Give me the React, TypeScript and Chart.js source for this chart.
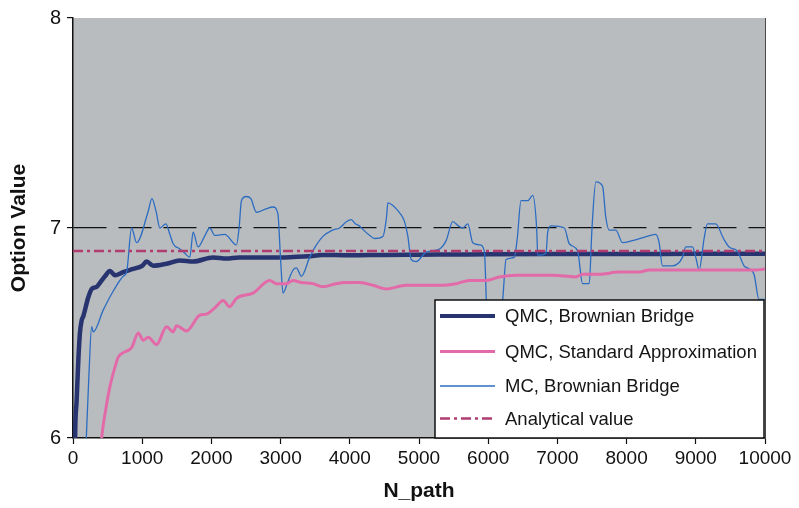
import React, { useEffect, useRef } from "react";
import { Chart, registerables } from "chart.js";

Chart.register(...registerables);

// ---- Data ----
const xTicks = [0, 1000, 2000, 3000, 4000, 5000, 6000, 7000, 8000, 9000, 10000];
const yTicks = [6, 7, 8];

const seriesNames = [
  "QMC, Brownian Bridge",
  "QMC, Standard Approximation",
  "MC, Brownian Bridge",
  "Analytical value",
];

const qmcBridgeN = [10, 30, 53, 77, 100, 125, 149, 221, 270, 342, 414, 462, 534, 606, 726, 870, 1000, 1063, 1159, 1352, 1544, 1736, 2025, 2218, 2400, 2700, 3000, 3180, 3400, 3600, 4000, 4500, 5000, 5500, 6000, 7000, 8000, 9000, 10000];
const qmcBridgeV = [5.3, 6.0, 6.18, 6.37, 6.5, 6.56, 6.58, 6.67, 6.71, 6.72, 6.75, 6.77, 6.795, 6.775, 6.79, 6.805, 6.82, 6.84, 6.82, 6.83, 6.845, 6.84, 6.86, 6.855, 6.86, 6.86, 6.86, 6.862, 6.865, 6.872, 6.87, 6.872, 6.873, 6.874, 6.875, 6.876, 6.876, 6.877, 6.877];

const qmcStdN = [380, 414, 470, 534, 600, 654, 750, 847, 943, 1015, 1087, 1207, 1352, 1447, 1496, 1640, 1833, 1929, 2050, 2170, 2265, 2362, 2602, 2843, 2939, 3083, 3180, 3300, 3468, 3612, 3800, 3949, 4141, 4334, 4526, 4815, 5007, 5296, 5536, 5729, 5969, 6162, 6403, 6643, 6931, 7268, 7364, 7605, 7893, 8182, 8326, 8566, 8855, 9240, 9625, 9865, 10000];
const qmcStdV = [5.85, 6.0, 6.13, 6.245, 6.33, 6.385, 6.41, 6.43, 6.5, 6.465, 6.48, 6.445, 6.53, 6.505, 6.535, 6.51, 6.585, 6.59, 6.62, 6.655, 6.625, 6.665, 6.69, 6.75, 6.735, 6.735, 6.75, 6.74, 6.735, 6.72, 6.735, 6.74, 6.74, 6.727, 6.71, 6.727, 6.727, 6.727, 6.735, 6.75, 6.75, 6.767, 6.775, 6.775, 6.775, 6.767, 6.78, 6.78, 6.79, 6.79, 6.8, 6.8, 6.8, 6.8, 6.8, 6.8, 6.805];

const mcBridgeN = [180, 230, 270, 293, 438, 582, 726, 775, 847, 919, 1087, 1140, 1200, 1255, 1342, 1400, 1447, 1544, 1616, 1688, 1736, 1808, 1900, 1977, 2049, 2193, 2362, 2400, 2434, 2500, 2570, 2650, 2780, 2890, 2960, 3000, 3035, 3100, 3180, 3228, 3300, 3420, 3500, 3612, 3750, 3853, 3950, 4022, 4080, 4141, 4200, 4286, 4358, 4478, 4530, 4550, 4646, 4700, 4766, 4800, 4839, 4887, 4959, 5103, 5296, 5392, 5488, 5570, 5632, 5705, 5777, 5873, 5945, 5980, 6050, 6150, 6210, 6258, 6378, 6420, 6474, 6571, 6643, 6700, 6716, 6835, 6860, 6907, 7100, 7172, 7292, 7364, 7460, 7500, 7556, 7652, 7700, 7749, 7845, 7941, 8085, 8250, 8422, 8470, 8518, 8663, 8807, 8855, 8951, 9000, 9048, 9120, 9168, 9288, 9400, 9481, 9601, 9697, 9745, 9841, 9913, 10000];
const mcBridgeV = [5.9, 6.3, 6.53, 6.505, 6.61, 6.7, 6.77, 6.79, 7.0, 6.93, 7.08, 7.14, 7.08, 7.0, 7.02, 6.97, 6.925, 6.9, 6.88, 6.86, 6.98, 6.91, 6.96, 7.0, 6.965, 6.97, 6.92, 7.0, 7.13, 7.15, 7.14, 7.075, 7.09, 7.1, 7.07, 6.85, 6.69, 6.74, 6.8, 6.81, 6.77, 6.86, 6.91, 6.96, 6.99, 7.0, 7.03, 7.04, 7.02, 7.01, 6.99, 6.965, 6.95, 6.96, 7.05, 7.12, 7.1, 7.08, 7.05, 7.02, 6.96, 6.85, 6.84, 6.885, 6.9, 6.94, 7.03, 7.01, 7.0, 7.02, 6.93, 6.92, 6.89, 6.6, 6.5, 6.5, 6.66, 6.85, 6.86, 6.95, 7.13, 7.13, 7.155, 7.0, 6.87, 6.88, 6.98, 7.01, 7.0, 6.925, 6.89, 6.735, 6.735, 7.0, 7.22, 7.2, 7.05, 6.99, 6.99, 6.93, 6.94, 6.955, 6.97, 6.93, 6.82, 6.82, 6.86, 6.91, 6.91, 6.86, 6.8, 6.95, 7.02, 7.02, 6.95, 6.91, 6.89, 6.82, 6.81, 6.78, 6.66, 6.66];

const analyticalN = [0, 10000];
const analyticalV = [6.89, 6.89];

const colors = {
  qmcBridge: "#283470",
  qmcStd: "#e26aa8",
  mcBridge: "#2b6cc2",
  analytical: "#b03c70",
  plotBg: "#b9bcbf",
};

const toPoints = (xs: number[], ys: number[]) => xs.map((x, i) => ({ x, y: ys[i] }));

const FONT = "'Liberation Sans', Arial, Helvetica, sans-serif";

const bgPlugin = {
  id: "plotBg",
  beforeDraw(chart: any) {
    const { ctx, chartArea } = chart;
    ctx.save();
    ctx.fillStyle = colors.plotBg;
    ctx.fillRect(chartArea.left, chartArea.top, chartArea.right - chartArea.left, chartArea.bottom - chartArea.top);
    ctx.restore();
  },
  afterDatasetsDraw(chart: any) {
    const { ctx, chartArea } = chart;
    ctx.save();
    ctx.strokeStyle = "#4a4a4a";
    ctx.lineWidth = 1;
    ctx.beginPath();
    ctx.moveTo(chartArea.right + 0.5, chartArea.top);
    ctx.lineTo(chartArea.right + 0.5, chartArea.bottom);
    ctx.stroke();
    ctx.restore();
  },
};

const legendPlugin = {
  id: "boxLegend",
  afterDraw(chart: any) {
    const { ctx, chartArea } = chart;
    const right = chartArea.right - 1;
    const bottom = chartArea.bottom;
    const left = right - 329;
    const top = bottom - 138;
    ctx.save();
    ctx.fillStyle = "#ffffff";
    ctx.fillRect(left, top, right - left, bottom - top);
    ctx.strokeStyle = "#111111";
    ctx.lineWidth = 1.5;
    ctx.strokeRect(left, top, right - left, bottom - top);
    const rows = [
      { color: colors.qmcBridge, width: 4, dash: [] as number[] },
      { color: colors.qmcStd, width: 3, dash: [] as number[] },
      { color: colors.mcBridge, width: 1.3, dash: [] as number[] },
      { color: colors.analytical, width: 2.5, dash: [10, 4, 3, 4] },
    ];
    const rowY = [16, 51.5, 86, 118.5];
    ctx.font = `18.5px ${FONT}`;
    ctx.textBaseline = "middle";
    ctx.fillStyle = "#151515";
    rows.forEach((r, i) => {
      const y = top + rowY[i];
      ctx.beginPath();
      ctx.setLineDash(r.dash);
      ctx.strokeStyle = r.color;
      ctx.lineWidth = r.width;
      ctx.lineCap = "butt";
      ctx.moveTo(left + 5, y);
      ctx.lineTo(left + 60, y);
      ctx.stroke();
      ctx.setLineDash([]);
      ctx.fillText(seriesNames[i], left + 70, y + 1);
    });
    ctx.restore();
  },
};

export default function App() {
  const canvasRef = useRef<HTMLCanvasElement | null>(null);

  useEffect(() => {
    document.body.style.margin = "0";
    const canvas = canvasRef.current;
    if (!canvas) return;
    const chart = new Chart(canvas, {
      type: "line",
      data: {
        datasets: [
          {
            label: seriesNames[3],
            data: toPoints(analyticalN, analyticalV),
            borderColor: colors.analytical,
            borderWidth: 2.5,
            borderDash: [10, 4, 3, 4],
            pointRadius: 0,
            tension: 0,
          },
          {
            label: seriesNames[1],
            data: toPoints(qmcStdN, qmcStdV),
            borderColor: colors.qmcStd,
            borderWidth: 3,
            pointRadius: 0,
            tension: 0.3,
            cubicInterpolationMode: "monotone",
          },
          {
            label: seriesNames[2],
            data: toPoints(mcBridgeN, mcBridgeV),
            borderColor: colors.mcBridge,
            borderWidth: 1.3,
            pointRadius: 0,
            tension: 0.3,
            cubicInterpolationMode: "monotone",
          },
          {
            label: seriesNames[0],
            data: toPoints(qmcBridgeN, qmcBridgeV),
            borderColor: colors.qmcBridge,
            borderWidth: 4.5,
            pointRadius: 0,
            tension: 0.3,
            cubicInterpolationMode: "monotone",
          },
        ],
      },
      options: {
        animation: false,
        responsive: false,
        maintainAspectRatio: false,
        devicePixelRatio: 1,
        layout: { padding: { top: 16, right: 34, left: 0, bottom: 0 } },
        plugins: {
          legend: { display: false },
          tooltip: { enabled: false },
          title: { display: false },
        },
        scales: {
          x: {
            type: "linear",
            min: 0,
            max: 10000,
            afterBuildTicks: (axis: any) => {
              axis.ticks = xTicks.map((v) => ({ value: v }));
            },
            afterFit: (axis: any) => {
              axis.height = 70;
            },
            ticks: {
              color: "#111",
              font: { family: FONT, size: 19 },
              padding: 3,
              maxRotation: 0,
              autoSkip: false,
              callback: (v: any) => String(v),
            },
            grid: {
              drawOnChartArea: false,
              drawTicks: true,
              tickLength: 6,
              tickColor: "#111",
              tickWidth: 1.2,
            },
            border: { display: true, color: "#111", width: 1.5 },
            title: {
              display: true,
              text: "N_path",
              color: "#111",
              font: { family: FONT, size: 21, weight: "bold" },
              padding: { top: 0, bottom: 4 },
            },
          },
          y: {
            type: "linear",
            min: 6,
            max: 8,
            afterBuildTicks: (axis: any) => {
              axis.ticks = yTicks.map((v) => ({ value: v }));
            },
            afterFit: (axis: any) => {
              axis.width = 73;
            },
            ticks: {
              color: "#111",
              font: { family: FONT, size: 20 },
              padding: 6,
              callback: (v: any) => String(v),
            },
            grid: {
              drawOnChartArea: true,
              drawTicks: true,
              tickLength: 6,
              tickColor: "#111",
              tickWidth: 1.2,
              color: (ctx: any) => (ctx.tick && ctx.tick.value === 7 ? "#111" : "rgba(0,0,0,0)"),
              lineWidth: 1.2,
            },
            border: { display: true, color: "#111", width: 1.5, dash: [33, 12] },
            title: {
              display: true,
              text: "Option Value",
              color: "#111",
              font: { family: FONT, size: 21, weight: "bold" },
              padding: { top: 7, bottom: 0 },
            },
          },
        },
      },
      plugins: [bgPlugin, legendPlugin],
    } as any);
    return () => chart.destroy();
  }, []);

  return (
    <div style={{ width: 799, height: 508 }}>
      <canvas ref={canvasRef} width={799} height={508} style={{ display: "block" }} />
    </div>
  );
}
